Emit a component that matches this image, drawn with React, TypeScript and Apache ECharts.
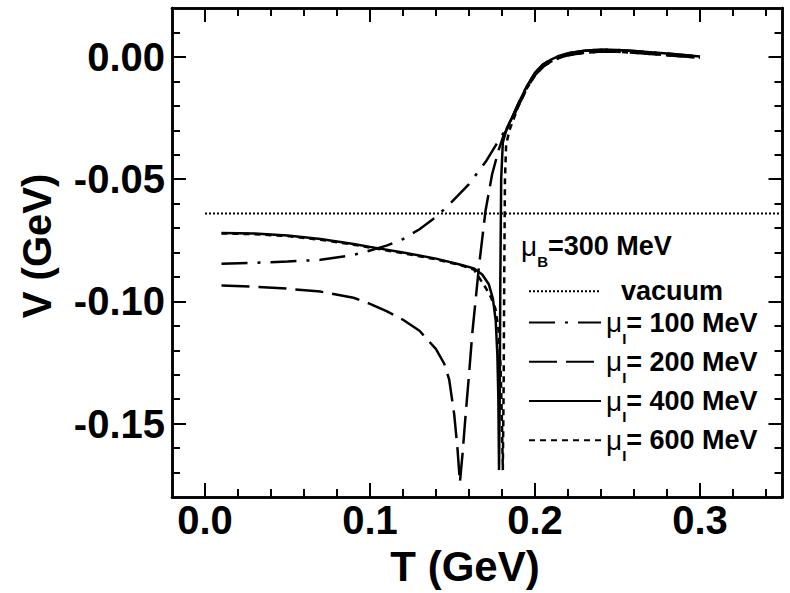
import React, { useEffect, useRef } from "react";
import * as echarts from "echarts";

const FONT = "'Liberation Sans', Arial, Helvetica, sans-serif";

// Axis ranges and ticks (GeV)
const X_MIN = -0.02;
const X_MAX = 0.35;
const Y_MIN = -0.18;
const Y_MAX = 0.02;
const X_MAJOR = [0, 0.1, 0.2, 0.3];
const X_MINOR = [0.02, 0.04, 0.06, 0.08, 0.12, 0.14, 0.16, 0.18, 0.22, 0.24, 0.26, 0.28, 0.32, 0.34];
const Y_MAJOR = [-0.15, -0.1, -0.05, 0];
const Y_MINOR = [-0.17, -0.16, -0.14, -0.13, -0.12, -0.11, -0.09, -0.08, -0.07, -0.06, -0.04, -0.03, -0.02, -0.01, 0.01];

// vacuum
const T_VAC = [0.0, 0.35];
const V_VAC = [-0.064, -0.064];

// mu_I = 100 MeV
const T_100 = [0.01, 0.03, 0.05, 0.07, 0.09, 0.10, 0.11, 0.12, 0.13, 0.14, 0.15, 0.16, 0.17, 0.175, 0.18, 0.183, 0.186, 0.19, 0.195, 0.20, 0.205, 0.21, 0.215, 0.22, 0.23, 0.24, 0.25, 0.26, 0.27, 0.28, 0.29, 0.30];
const V_100 = [-0.0846, -0.0842, -0.0837, -0.083, -0.081, -0.0792, -0.0772, -0.0745, -0.0705, -0.0655, -0.059, -0.052, -0.043, -0.0375, -0.032, -0.029, -0.025, -0.019, -0.012, -0.0065, -0.003, -0.001, 0.0005, 0.0015, 0.0025, 0.003, 0.0028, 0.0024, 0.0019, 0.0014, 0.0008, 0.0002];

// mu_I = 200 MeV
const T_200 = [0.01, 0.03, 0.05, 0.07, 0.09, 0.10, 0.11, 0.12, 0.13, 0.14, 0.145, 0.148, 0.151, 0.153, 0.1545, 0.156, 0.158, 0.160, 0.162, 0.166, 0.170, 0.174, 0.178, 0.181, 0.183, 0.186, 0.19, 0.195, 0.20, 0.205, 0.21, 0.215, 0.22, 0.23, 0.24, 0.25, 0.26, 0.27, 0.28, 0.29, 0.30];
const V_200 = [-0.0935, -0.094, -0.0948, -0.096, -0.0985, -0.101, -0.104, -0.1075, -0.112, -0.1195, -0.1255, -0.132, -0.146, -0.16, -0.174, -0.163, -0.146, -0.13, -0.113, -0.086, -0.063, -0.048, -0.038, -0.032, -0.0295, -0.0258, -0.02, -0.013, -0.0075, -0.004, -0.0018, -0.0003, 0.0007, 0.0017, 0.0022, 0.0021, 0.0017, 0.0012, 0.0007, 0.0002, -0.0003];

// mu_I = 400 MeV
const T_400 = [0.01, 0.03, 0.05, 0.07, 0.09, 0.10, 0.12, 0.14, 0.155, 0.163, 0.168, 0.172, 0.1745, 0.1762, 0.1772, 0.1778, 0.1782, 0.1786, 0.179, 0.1795, 0.1805, 0.183, 0.186, 0.19, 0.195, 0.20, 0.205, 0.21, 0.215, 0.22, 0.23, 0.24, 0.25, 0.26, 0.27, 0.28, 0.29, 0.30];
const V_400 = [-0.072, -0.0722, -0.073, -0.0745, -0.0765, -0.0777, -0.08, -0.0825, -0.085, -0.0865, -0.089, -0.093, -0.099, -0.108, -0.122, -0.14, -0.169, -0.14, -0.09, -0.05, -0.035, -0.029, -0.025, -0.019, -0.012, -0.0065, -0.003, -0.001, 0.0005, 0.0015, 0.0025, 0.003, 0.0028, 0.0024, 0.0019, 0.0014, 0.0008, 0.0002];

// mu_I = 600 MeV
const T_600 = [0.01, 0.03, 0.05, 0.07, 0.09, 0.10, 0.12, 0.14, 0.155, 0.163, 0.1697, 0.1731, 0.176, 0.178, 0.1792, 0.18, 0.1805, 0.181, 0.1814, 0.1818, 0.1825, 0.1845, 0.187, 0.19, 0.195, 0.20, 0.205, 0.21, 0.215, 0.22, 0.23, 0.24, 0.25, 0.26, 0.27, 0.28, 0.29, 0.30];
const V_600 = [-0.0722, -0.0725, -0.0733, -0.0748, -0.0768, -0.078, -0.0803, -0.0828, -0.0852, -0.087, -0.094, -0.098, -0.103, -0.112, -0.128, -0.15, -0.169, -0.135, -0.085, -0.05, -0.036, -0.03, -0.0255, -0.02, -0.013, -0.0075, -0.004, -0.0018, -0.0003, 0.0007, 0.0017, 0.0022, 0.0021, 0.0017, 0.0012, 0.0007, 0.0002, -0.0003];

const MU_I = [100, 200, 400, 600];
const NAME_VAC = "vacuum";
const muName = (v: number) => `μI= ${v} MeV`;

const pairs = (t: number[], v: number[]) => t.map((x, i) => [x, v[i]]);

const RICH = {
  mu: { fontFamily: FONT, fontSize: 28, fontWeight: "normal", color: "#000", lineHeight: 46, verticalAlign: "middle" },
  sub: { fontFamily: FONT, fontSize: 15, fontWeight: "bold", color: "#000", lineHeight: 46, verticalAlign: "bottom" },
  t: { fontFamily: FONT, fontSize: 27, fontWeight: "bold", color: "#000", lineHeight: 46, verticalAlign: "middle" },
};

const lineAxisStyle = { color: "#000", width: 2.5 };

function xAxisDef(position: string, values: number[], len: number, labels: boolean) {
  return {
    type: "value",
    position,
    min: X_MIN,
    max: X_MAX,
    axisLine: { show: true, onZero: false, lineStyle: lineAxisStyle },
    splitLine: { show: false },
    axisTick: { show: true, inside: true, length: len, customValues: values, lineStyle: { color: "#000", width: 2 } },
    axisLabel: labels
      ? {
          show: true,
          customValues: values,
          margin: 3,
          color: "#000",
          fontFamily: FONT,
          fontWeight: "bold",
          fontSize: 40,
          formatter: (v: number) => v.toFixed(1),
        }
      : { show: false },
  };
}

function yAxisDef(position: string, values: number[], len: number, labels: boolean) {
  return {
    type: "value",
    position,
    min: Y_MIN,
    max: Y_MAX,
    axisLine: { show: true, onZero: false, lineStyle: lineAxisStyle },
    splitLine: { show: false },
    axisTick: { show: true, inside: true, length: len, customValues: values, lineStyle: { color: "#000", width: 2 } },
    axisLabel: labels
      ? {
          show: true,
          customValues: values,
          margin: 7,
          color: "#000",
          fontFamily: FONT,
          fontWeight: "bold",
          fontSize: 40,
          formatter: (v: number) => v.toFixed(2),
        }
      : { show: false },
  };
}

const lineSeries = (name: string, data: number[][], dash: any, width = 2.5) => ({
  name,
  type: "line",
  data,
  xAxisIndex: 0,
  yAxisIndex: 0,
  symbol: "none",
  showSymbol: false,
  smooth: false,
  lineStyle: { color: "#000", width, type: dash },
  emphasis: { disabled: true },
});

export default function App() {
  const ref = useRef<HTMLDivElement>(null);
  useEffect(() => {
    const chart = echarts.init(ref.current!, null, { renderer: "svg" });
    const option: any = {
      animation: false,
      backgroundColor: "#fff",
      grid: { left: 172, right: 7.5, top: 8, bottom: 96, containLabel: false },
      xAxis: [
        xAxisDef("bottom", X_MAJOR, 14, true),
        xAxisDef("bottom", X_MINOR, 8, false),
        xAxisDef("top", X_MAJOR, 14, false),
        xAxisDef("top", X_MINOR, 8, false),
      ],
      yAxis: [
        yAxisDef("left", Y_MAJOR, 14, true),
        yAxisDef("left", Y_MINOR, 8, false),
        yAxisDef("right", Y_MAJOR, 14, false),
        yAxisDef("right", Y_MINOR, 8, false),
      ],
      legend: {
        orient: "vertical",
        left: 528,
        top: 276,
        padding: 0,
        itemWidth: 72,
        itemHeight: 38,
        itemGap: 1,
        selectedMode: false,
        itemStyle: { color: "rgba(0,0,0,0)", borderWidth: 0 },
        data: [NAME_VAC, ...MU_I.map(muName)],
        formatter: (name: string) => {
          if (name === NAME_VAC) return "{t|  vacuum}";
          const val = name.split("= ")[1];
          return `{mu|μ}{sub|I}{t|= ${val}}`;
        },
        textStyle: { color: "#000", fontFamily: FONT, fontWeight: "bold", fontSize: 27, rich: RICH },
      },
      graphic: [
        {
          type: "text",
          x: 521,
          y: 246,
          style: {
            text: "{mu|μ}{sub|B}{t|=300 MeV}",
            rich: RICH,
            align: "left",
            verticalAlign: "middle",
            textAlign: "left",
            textVerticalAlign: "middle",
          },
        },
        {
          type: "text",
          x: 465,
          y: 566,
          style: {
            text: "T (GeV)",
            fill: "#000",
            fontFamily: FONT,
            fontWeight: "bold",
            fontSize: 42,
            align: "center",
            verticalAlign: "middle",
            textAlign: "center",
            textVerticalAlign: "middle",
          },
        },
        {
          type: "text",
          x: 37,
          y: 246,
          rotation: Math.PI / 2,
          style: {
            text: "V (GeV)",
            fill: "#000",
            fontFamily: FONT,
            fontWeight: "bold",
            fontSize: 40,
            align: "center",
            verticalAlign: "middle",
            textAlign: "center",
            textVerticalAlign: "middle",
          },
        },
      ],
      series: [
        lineSeries(NAME_VAC, pairs(T_VAC, V_VAC), [2, 2], 2),
        lineSeries(muName(MU_I[0]), pairs(T_100, V_100), [26, 10, 3, 10]),
        lineSeries(muName(MU_I[1]), pairs(T_200, V_200), [28, 9]),
        lineSeries(muName(MU_I[2]), pairs(T_400, V_400), "solid"),
        lineSeries(muName(MU_I[3]), pairs(T_600, V_600), [6, 5]),
      ],
    };
    chart.setOption(option);
    return () => chart.dispose();
  }, []);
  return <div ref={ref} style={{ position: "fixed", left: 0, top: 0, width: 790, height: 593 }} />;
}
